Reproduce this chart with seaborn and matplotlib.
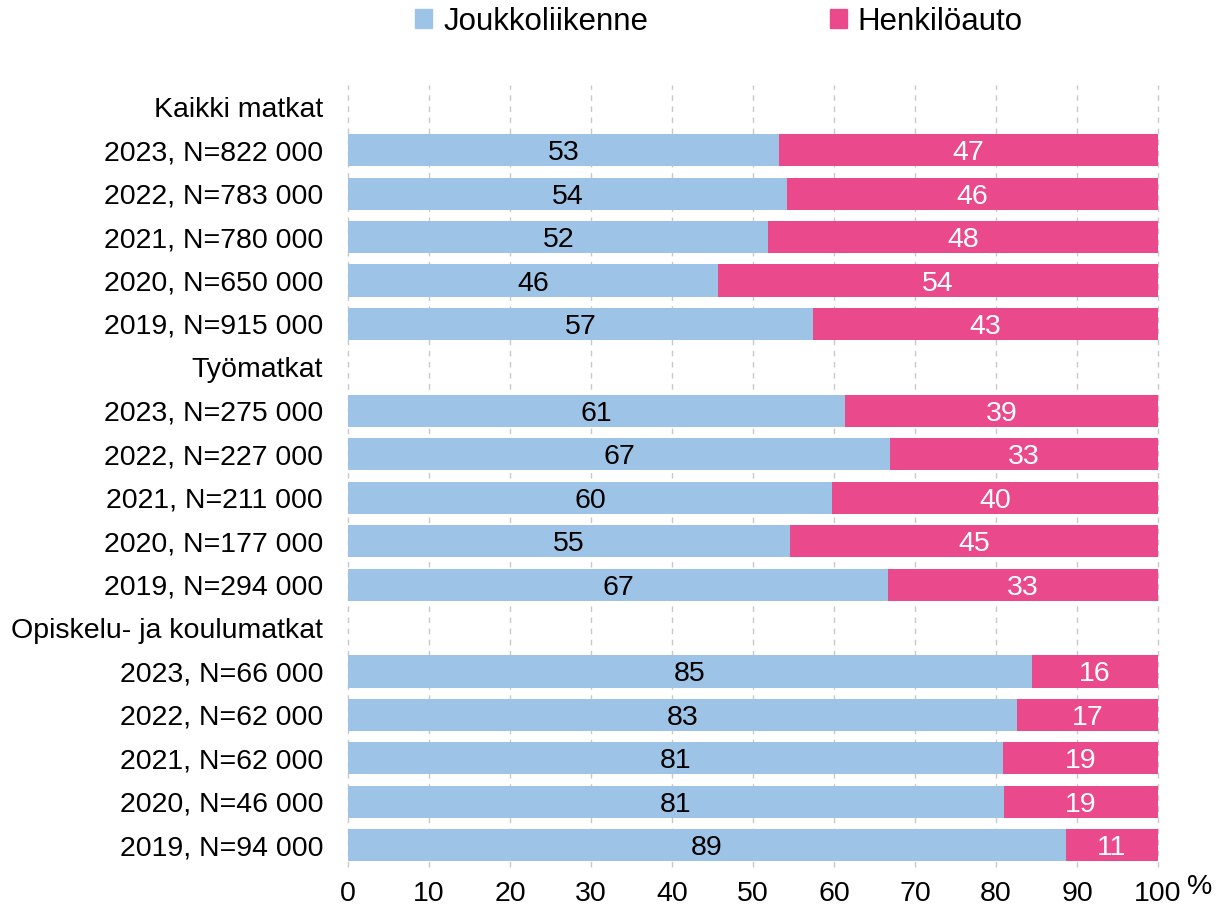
import matplotlib
matplotlib.use('Agg')
import matplotlib.pyplot as plt
import numpy as np
import pandas as pd
import seaborn as sns

groups = ['Kaikki matkat', 'Työmatkat', 'Opiskelu- ja koulumatkat']
years = ['2023', '2022', '2021', '2020', '2019']
n_sizes = [
    ['822 000', '783 000', '780 000', '650 000', '915 000'],
    ['275 000', '227 000', '211 000', '177 000', '294 000'],
    ['66 000', '62 000', '62 000', '46 000', '94 000'],
]
joukko = [53.2, 54.2, 51.9, 45.7, 57.4,
          61.4, 66.9, 59.8, 54.6, 66.7,
          84.4, 82.6, 80.9, 81.0, 88.6]
henkilo = [46.8, 45.8, 48.1, 54.3, 42.6,
           38.6, 33.1, 40.2, 45.4, 33.3,
           15.6, 17.4, 19.1, 19.0, 11.4]
joukko_lbl = [53, 54, 52, 46, 57, 61, 67, 60, 55, 67, 85, 83, 81, 81, 89]
henkilo_lbl = [47, 46, 48, 54, 43, 39, 33, 40, 45, 33, 16, 17, 19, 19, 11]

BLUE = '#9DC3E6'
PINK = '#EA4A8C'

# build rows: header row per group, then one row per year
rows, jv, hv, jl, hl = [], [], [], [], []
k = 0
for g, group in enumerate(groups):
    rows.append(group); jv.append(0); hv.append(0); jl.append(None); hl.append(None)
    for y, year in enumerate(years):
        rows.append(f'{year}, N={n_sizes[g][y]}')
        jv.append(joukko[k]); hv.append(henkilo[k])
        jl.append(joukko_lbl[k]); hl.append(henkilo_lbl[k])
        k += 1

df = pd.DataFrame({'row': rows, 'joukko': jv, 'henkilo': hv})
df['total'] = df['joukko'] + df['henkilo']

sns.set_style('white')
plt.rcParams['font.family'] = ['Liberation Sans', 'DejaVu Sans']
plt.rcParams['text.color'] = 'black'

fig = plt.figure(figsize=(12.28, 9.15), dpi=100)
ax = fig.add_axes([0.2834, 0.0525, 0.6596, 0.8545])

sns.barplot(data=df, x='total', y='row', order=rows, color=PINK,
            width=0.74, saturation=1, ax=ax, errorbar=None, zorder=3,
            linewidth=0)
sns.barplot(data=df, x='joukko', y='row', order=rows, color=BLUE,
            width=0.74, saturation=1, ax=ax, errorbar=None, zorder=3,
            linewidth=0)

for i in range(len(rows)):
    if jl[i] is None:
        continue
    ax.text(df['joukko'][i] / 2, i, str(jl[i]), ha='center',
            va='center_baseline', fontsize=20.5, color='black', zorder=4)
    ax.text(df['joukko'][i] + df['henkilo'][i] / 2, i, str(hl[i]),
            ha='center', va='center_baseline', fontsize=20.5,
            color='white', zorder=4)

ax.set_xlim(0, 100)
ax.set_ylim(len(rows) - 0.5, -0.5)
ax.set_xticks(np.arange(0, 101, 10))
ax.tick_params(axis='both', length=0, labelsize=20.5, labelcolor='black')
ax.tick_params(axis='y', pad=18)
ax.tick_params(axis='x', pad=10)
ax.set_xlabel('')
ax.set_ylabel('')
for s in ax.spines.values():
    s.set_visible(False)
ax.xaxis.grid(True, color='#C8C8C8', linestyle=(0, (4, 4)), linewidth=1, zorder=0)
for gl in ax.get_xgridlines():
    gl.set_clip_on(False)
ax.set_axisbelow(True)

fig.text(0.977, 0.031, '%', fontsize=20.5, ha='center', va='center')

handles = [plt.Rectangle((0, 0), 1, 1, color=BLUE),
           plt.Rectangle((0, 0), 1, 1, color=PINK)]
fig.legend(handles, ['Joukkoliikenne', 'Henkilöauto'], loc='center',
           bbox_to_anchor=(0.5855, 0.976), ncol=2, frameon=False,
           fontsize=22.5, handlelength=0.55, handleheight=0.55,
           handletextpad=0.35, columnspacing=5.8)

fig.savefig('out.png', dpi=100)
